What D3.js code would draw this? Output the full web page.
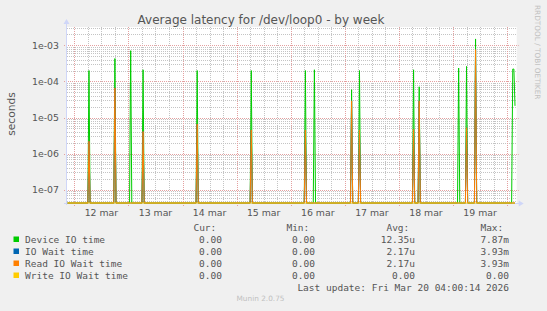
<!DOCTYPE html>
<html>
<head>
<meta charset="utf-8">
<script src="https://cdn.jsdelivr.net/npm/d3@7/dist/d3.min.js"></script>
<style>
  html, body { margin: 0; padding: 0; background: #f0f0f0; }
  svg { display: block; }
</style>
</head>
<body>
<div id="chart"></div>
<script>
// samples (30 min steps, only the ones around spikes are kept, rest is 0)
const sampleTimes = [
  '2026-03-11 21:00',
  '2026-03-12 06:00', '2026-03-12 06:30', '2026-03-12 07:00',
  '2026-03-12 17:30', '2026-03-12 18:00', '2026-03-12 18:30',
  '2026-03-13 00:30', '2026-03-13 01:00', '2026-03-13 01:30',
  '2026-03-13 06:00', '2026-03-13 06:30', '2026-03-13 07:00',
  '2026-03-14 06:00', '2026-03-14 06:30', '2026-03-14 07:00',
  '2026-03-15 06:00', '2026-03-15 06:30', '2026-03-15 07:00',
  '2026-03-16 06:00', '2026-03-16 06:30', '2026-03-16 07:00',
  '2026-03-16 10:00', '2026-03-16 10:30', '2026-03-16 11:00',
  '2026-03-17 02:30', '2026-03-17 03:00', '2026-03-17 03:30',
  '2026-03-17 06:00', '2026-03-17 06:30', '2026-03-17 07:00',
  '2026-03-18 06:00', '2026-03-18 06:30', '2026-03-18 07:00',
  '2026-03-18 08:30', '2026-03-18 09:00', '2026-03-18 09:30',
  '2026-03-19 02:00', '2026-03-19 02:30', '2026-03-19 03:00',
  '2026-03-19 05:30', '2026-03-19 06:00', '2026-03-19 06:30',
  '2026-03-19 09:30', '2026-03-19 10:00', '2026-03-19 10:30',
  '2026-03-20 02:00', '2026-03-20 02:30', '2026-03-20 03:00', '2026-03-20 03:30',
];
const deviceIO = [
  0,
  0, 2.0e-4, 0,
  0, 4.3e-4, 0,
  0, 7.1e-4, 0,
  0, 2.1e-4, 0,
  0, 2.0e-4, 0,
  0, 2.0e-4, 0,
  0, 2.0e-4, 0,
  0, 2.1e-4, 0,
  0, 5.9e-5, 0,
  0, 2.0e-4, 0,
  0, 2.1e-4, 0,
  0, 7.1e-5, 0,
  0, 2.35e-4, 0,
  0, 2.6e-4, 0,
  0, 1.5e-3, 0,
  0, 2.2e-4, 2.2e-4, 2.1e-5,
];
const ioWait = [
  0,
  0, 2.2e-6, 0,
  0, 6.6e-5, 0,
  0, 0, 0,
  0, 4.1e-6, 0,
  0, 6.6e-6, 0,
  0, 4.5e-6, 0,
  0, 4.5e-6, 0,
  0, 0, 0,
  0, 2.9e-5, 0,
  0, 4.5e-6, 0,
  0, 4.7e-6, 0,
  0, 2.9e-5, 0,
  0, 0, 0,
  0, 5.2e-6, 0,
  0, 7.6e-4, 0,
  0, 0, 0, 0,
];
const readIOWait = ioWait.slice();
const writeIOWait = sampleTimes.map(() => 0);

const seriesNames = ['Device IO time', 'IO Wait time', 'Read IO Wait time', 'Write IO Wait time'];
const seriesColors = ['#00cc00', '#0066b3', '#ff8000', '#ffcc00'];
const curValues = ['0.00', '0.00', '0.00', '0.00'];
const minValues = ['0.00', '0.00', '0.00', '0.00'];
const avgValues = ['12.35u', '2.17u', '2.17u', '0.00'];
const maxValues = ['7.87m', '3.93m', '3.93m', '0.00'];

const dayLabels = ['12 mar', '13 mar', '14 mar', '15 mar', '16 mar', '17 mar', '18 mar', '19 mar'];
const yTickValues = [1e-3, 1e-4, 1e-5, 1e-6, 1e-7];
const yTickLabels = ['1e-03', '1e-04', '1e-05', '1e-06', '1e-07'];

const config = {
  width: 547,
  height: 311,
  plot: { left: 67, right: 516.7, top: 27, bottom: 203 },
  font: 'DejaVu Sans, sans-serif',
  mono: 'DejaVu Sans Mono, monospace',
  fontColor: '#555555',
  gridColor: '#c4c4c4',
  majorGridColor: '#e4a0a0',
};

const parse = d3.timeParse('%Y-%m-%d %H:%M');
const times = sampleTimes.map(parse);
const { plot } = config;

const svg = d3.select('#chart').append('svg')
  .attr('width', config.width)
  .attr('height', config.height);

svg.append('rect')
  .attr('width', config.width).attr('height', config.height)
  .attr('fill', '#f0f0f0');

// scales
const x = d3.scaleTime()
  .domain([parse('2026-03-11 20:45'), parse('2026-03-20 04:15')])
  .range([plot.left, plot.right]);
const y = d3.scaleLog()
  .domain([Math.pow(10, -7.368), Math.pow(10, -2.493)])
  .range([plot.bottom, plot.top])
  .clamp(true);
const yv = v => (v > 0 ? y(v) : plot.bottom);
const px = v => Math.round(v) + 0.5;

// canvas
svg.append('rect')
  .attr('x', plot.left).attr('y', plot.top)
  .attr('width', plot.right - plot.left).attr('height', plot.bottom - plot.top)
  .attr('fill', '#ffffff');

const grid = svg.append('g');

// minor horizontal grid (2..9 per decade)
const minorY = [];
for (let e = -8; e <= -2; e += 1) {
  for (let m = 2; m <= 9; m += 1) {
    const v = m * Math.pow(10, e);
    if (v > y.domain()[0] && v < y.domain()[1]) minorY.push(v);
  }
}
grid.selectAll('line.minor-y').data(minorY).join('line')
  .attr('class', 'minor-y')
  .attr('x1', plot.left).attr('x2', plot.right)
  .attr('y1', d => px(y(d))).attr('y2', d => px(y(d)))
  .attr('stroke', config.gridColor).attr('stroke-dasharray', '1,1');

// minor vertical grid every 6 hours
const sixHours = d3.timeHour.every(6).range(x.domain()[0], x.domain()[1]);
grid.selectAll('line.minor-x').data(sixHours).join('line')
  .attr('class', 'minor-x')
  .attr('x1', d => px(x(d))).attr('x2', d => px(x(d)))
  .attr('y1', plot.top).attr('y2', plot.bottom)
  .attr('stroke', config.gridColor).attr('stroke-dasharray', '1,1');

// major grid
grid.selectAll('line.major-y').data(yTickValues).join('line')
  .attr('class', 'major-y')
  .attr('x1', plot.left - 3).attr('x2', plot.right + 2)
  .attr('y1', d => px(y(d))).attr('y2', d => px(y(d)))
  .attr('stroke', config.majorGridColor).attr('stroke-dasharray', '1,1');

const days = d3.timeDay.range(x.domain()[0], x.domain()[1]);
grid.selectAll('line.major-x').data(days).join('line')
  .attr('class', 'major-x')
  .attr('x1', d => px(x(d))).attr('x2', d => px(x(d)))
  .attr('y1', plot.top).attr('y2', plot.bottom + 3)
  .attr('stroke', config.majorGridColor).attr('stroke-dasharray', '1,1');

// axes lines
const axisColor = '#cfd6f8';
grid.append('line')
  .attr('x1', plot.left - 0.5).attr('x2', plot.left - 0.5)
  .attr('y1', plot.top - 4).attr('y2', plot.bottom + 2)
  .attr('stroke', axisColor);
grid.append('line')
  .attr('x1', plot.left - 3).attr('x2', plot.right + 3)
  .attr('y1', plot.bottom + 0.5).attr('y2', plot.bottom + 0.5)
  .attr('stroke', axisColor);
svg.append('path')
  .attr('d', `M${plot.left - 3.5},${plot.top - 3} L${plot.left - 0.5},${plot.top - 8} L${plot.left + 2.5},${plot.top - 3} Z`)
  .attr('fill', axisColor);
svg.append('path')
  .attr('d', `M${plot.right + 2},${plot.bottom - 2.5} L${plot.right + 7},${plot.bottom + 0.5} L${plot.right + 2},${plot.bottom + 3.5} Z`)
  .attr('fill', axisColor);

// data lines, drawn in rrd order
const allSeries = [deviceIO, ioWait, readIOWait, writeIOWait];
const line = d3.line()
  .x((d, i) => x(times[i]))
  .y(d => yv(d));
svg.append('g').selectAll('path').data(allSeries).join('path')
  .attr('d', d => line(d))
  .attr('fill', 'none')
  .attr('stroke', (d, i) => seriesColors[i])
  .attr('stroke-width', 1);

// tick labels
svg.append('g').selectAll('text').data(yTickValues).join('text')
  .attr('x', 59).attr('y', d => y(d) + 3.5)
  .attr('text-anchor', 'end')
  .attr('font-family', config.font).attr('font-size', 9.33)
  .attr('fill', config.fontColor)
  .text((d, i) => yTickLabels[i]);

svg.append('g').selectAll('text').data(dayLabels).join('text')
  .attr('x', (d, i) => x(d3.timeHour.offset(days[i], 12)))
  .attr('y', 215.5)
  .attr('text-anchor', 'middle')
  .attr('font-family', config.font).attr('font-size', 9.33)
  .attr('fill', config.fontColor)
  .text(d => d);

// title and labels
svg.append('text')
  .attr('x', 261).attr('y', 24)
  .attr('text-anchor', 'middle')
  .attr('font-family', config.font).attr('font-size', 12)
  .attr('fill', config.fontColor)
  .text('Average latency for /dev/loop0 - by week');

svg.append('text')
  .attr('transform', 'translate(15,114) rotate(-90)')
  .attr('text-anchor', 'middle')
  .attr('font-family', config.font).attr('font-size', 10.67)
  .attr('fill', config.fontColor)
  .text('seconds');

svg.append('text')
  .attr('transform', 'translate(535,5) rotate(90)')
  .attr('text-anchor', 'start')
  .attr('font-family', config.font).attr('font-size', 7.33)
  .attr('fill', '#c0c0c0')
  .text('RRDTOOL / TOBI OETIKER');

// legend
const legend = svg.append('g')
  .attr('font-family', config.mono).attr('font-size', 9.5)
  .attr('fill', config.fontColor);

const cols = [
  { x: 222, label: 'Cur:', vals: curValues },
  { x: 315, label: 'Min:', vals: minValues },
  { x: 415, label: 'Avg:', vals: avgValues },
  { x: 509, label: 'Max:', vals: maxValues },
];
cols.forEach((c) => {
  legend.append('text')
    .attr('x', c.x - 5.7).attr('y', 231)
    .attr('text-anchor', 'end')
    .text(c.label);
});

seriesNames.forEach((name, i) => {
  const by = 242.5 + i * 12;
  legend.append('rect')
    .attr('x', 13.5).attr('y', by - 6)
    .attr('width', 5.5).attr('height', 5.5)
    .attr('fill', seriesColors[i]);
  legend.append('text')
    .attr('x', 25).attr('y', by)
    .text(name);
  cols.forEach((c) => {
    legend.append('text')
      .attr('x', c.x).attr('y', by)
      .attr('text-anchor', 'end')
      .text(c.vals[i]);
  });
});

legend.append('text')
  .attr('x', 509).attr('y', 290.5)
  .attr('text-anchor', 'end')
  .text('Last update: Fri Mar 20 04:00:14 2026');

svg.append('text')
  .attr('x', 260.5).attr('y', 301)
  .attr('text-anchor', 'middle')
  .attr('font-family', config.font).attr('font-size', 7.33)
  .attr('fill', '#c0c0c0')
  .text('Munin 2.0.75');
</script>
</body>
</html>
